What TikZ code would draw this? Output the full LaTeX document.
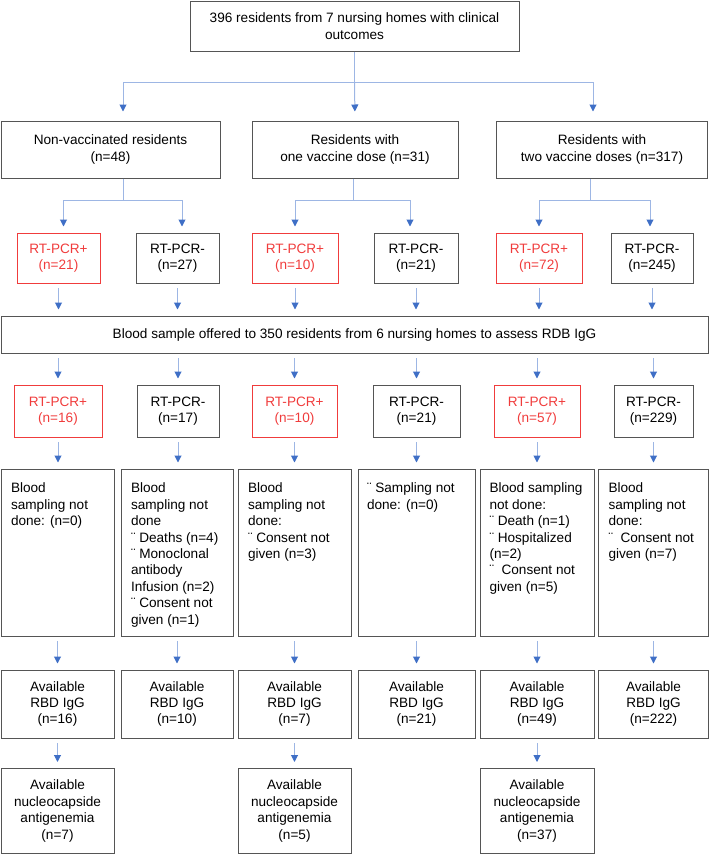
\documentclass[tikz,border=0pt]{standalone}
\usepackage{fontspec}
\setmainfont{Liberation Sans}
\usetikzlibrary{arrows.meta}

\definecolor{boxgray}{HTML}{555555}
\definecolor{posred}{HTML}{F03C3C}
\definecolor{linkblue}{HTML}{9DB6E4}
\definecolor{tipblue}{HTML}{3F6FC6}

% boxes with the text set from the top left corner
\newcommand{\toptext}[3]{\parbox[c][#1][t]{#2}{\raggedright #3}}

\tikzset{
  box/.style={draw=boxgray, line width=1pt, inner sep=0pt, align=center,
    font=\fontsize{13.6}{16.4}\selectfont},
  posbox/.style={box, draw=posred, text=posred, line width=1pt},
  link/.style={draw=linkblue, line width=1pt},
  arr/.style={link, -{Triangle[width=7pt,length=7pt,color=tipblue]}, shorten >=6pt},
  gaparr/.style={arr, shorten <=4.5pt},
}

\begin{document}
\begin{tikzpicture}[x=1pt, y=-1pt]
  \useasboundingbox (0,0) rectangle (709,855);

  % top and vaccination groups
  \node[box, minimum width=329pt, minimum height=50pt] (top) at (354.5,26)
    {396 residents from 7 nursing homes with clinical\\outcomes};
  \node[box, minimum width=219pt, minimum height=57pt] (nv) at (110.5,149.5)
    {Non-vaccinated residents\\[1.5pt](n=48)};
  \node[box, minimum width=206pt, minimum height=57pt] (one) at (355,149.5)
    {Residents with\\[1.5pt]one vaccine dose (n=31)};
  \node[box, minimum width=211pt, minimum height=57pt] (two) at (602,149.5)
    {Residents with\\[1.5pt]two vaccine doses (n=317)};

  % RT-PCR results
  \node[posbox, minimum width=83pt, minimum height=50pt] (p1) at (58.5,258) {RT-PCR+\\(n=21)};
  \node[box, minimum width=83pt, minimum height=50pt] (n1) at (177.5,258) {RT-PCR-\\(n=27)};
  \node[posbox, minimum width=86pt, minimum height=50pt] (p2) at (295,258) {RT-PCR+\\(n=10)};
  \node[box, minimum width=84pt, minimum height=50pt] (n2) at (416,258) {RT-PCR-\\(n=21)};
  \node[posbox, minimum width=86pt, minimum height=50pt] (p3) at (539,258) {RT-PCR+\\(n=72)};
  \node[box, minimum width=82pt, minimum height=50pt] (n3) at (652,258) {RT-PCR-\\(n=245)};

  \node[box, minimum width=707pt, minimum height=37pt] (blood) at (354.5,334.5)
    {Blood sample offered to 350 residents from 6 nursing homes to assess RDB IgG};

  % RT-PCR results among the sampled homes
  \node[posbox, minimum width=88pt, minimum height=52pt] (p1b) at (58,411) {RT-PCR+\\(n=16)};
  \node[box, minimum width=82pt, minimum height=52pt] (n1b) at (178,411) {RT-PCR-\\(n=17)};
  \node[posbox, minimum width=85pt, minimum height=52pt] (p2b) at (294.5,411) {RT-PCR+\\(n=10)};
  \node[box, minimum width=87pt, minimum height=52pt] (n2b) at (416.5,411) {RT-PCR-\\(n=21)};
  \node[posbox, minimum width=86pt, minimum height=52pt] (p3b) at (537,411) {RT-PCR+\\(n=57)};
  \node[box, minimum width=79pt, minimum height=52pt] (n3b) at (653.5,411) {RT-PCR-\\(n=229)};

  % sampling not done
  \node[box, minimum width=113pt, minimum height=167pt] (s1) at (57.5,552.5)
    {\toptext{139pt}{93pt}{Blood\\sampling not\\done: (n=0)}};
  \node[box, minimum width=112pt, minimum height=167pt] (s2) at (177,552.5)
    {\toptext{139pt}{92pt}{Blood\\sampling not\\done\\¨ Deaths (n=4)\\¨ Monoclonal\\antibody\\Infusion (n=2)\\¨ Consent not\\given (n=1)}};
  \node[box, minimum width=113pt, minimum height=167pt] (s3) at (294.5,552.5)
    {\toptext{139pt}{93pt}{Blood\\sampling not\\done:\\¨ Consent not\\given (n=3)}};
  \node[box, minimum width=117pt, minimum height=167pt] (s4) at (416.5,552.5)
    {\toptext{139pt}{99pt}{¨ Sampling not\\done: (n=0)}};
  \node[box, minimum width=114pt, minimum height=167pt] (s5) at (537,552.5)
    {\toptext{139pt}{95pt}{Blood sampling\\not done:\\¨ Death (n=1)\\¨ Hospitalized\\(n=2)\\¨~~Consent not\\given (n=5)}};
  \node[box, minimum width=110pt, minimum height=167pt] (s6) at (653.5,552.5)
    {\toptext{139pt}{90pt}{Blood\\sampling not\\done:\\¨~~Consent not\\given (n=7)}};

  % available RBD IgG
  \node[box, minimum width=113pt, minimum height=68pt] (r1) at (57.5,704) {Available\\RBD IgG\\(n=16)};
  \node[box, minimum width=112pt, minimum height=68pt] (r2) at (177,704) {Available\\RBD IgG\\(n=10)};
  \node[box, minimum width=113pt, minimum height=68pt] (r3) at (294.5,704) {Available\\RBD IgG\\(n=7)};
  \node[box, minimum width=117pt, minimum height=68pt] (r4) at (416.5,704) {Available\\RBD IgG\\(n=21)};
  \node[box, minimum width=114pt, minimum height=68pt] (r5) at (537,704) {Available\\RBD IgG\\(n=49)};
  \node[box, minimum width=110pt, minimum height=68pt] (r6) at (653.5,704) {Available\\RBD IgG\\(n=222)};

  % available nucleocapside antigenemia
  \node[box, minimum width=113pt, minimum height=85pt] (a1) at (57.5,811) {Available\\nucleocapside\\antigenemia\\(n=7)};
  \node[box, minimum width=113pt, minimum height=85pt] (a3) at (294.5,811) {Available\\nucleocapside\\antigenemia\\(n=5)};
  \node[box, minimum width=114pt, minimum height=85pt] (a5) at (537,811) {Available\\nucleocapside\\antigenemia\\(n=37)};

  % branches
  \coordinate (topj) at (354.5,82);
  \coordinate (nvj) at (123,200);
  \coordinate (onej) at (353,200);
  \coordinate (twoj) at (590,200);

  \draw[link] (top.south) -- (topj);
  \draw[arr, shorten >=9pt] (topj) -| ([xshift=12.5pt]nv.north);
  \draw[arr, shorten >=9pt] (topj) -- (one.north);
  \draw[arr, shorten >=9pt] (topj) -| ([xshift=-9pt]two.north);

  \draw[link] (nvj |- nv.south) -- (nvj);
  \draw[arr] (nvj) -| ([xshift=5pt]p1.north);
  \draw[arr] (nvj) -| ([xshift=4.5pt]n1.north);
  \draw[link] (onej |- one.south) -- (onej);
  \draw[arr] (onej) -| (p2.north);
  \draw[arr] (onej) -| ([xshift=-6pt]n2.north);
  \draw[link] (twoj |- two.south) -- (twoj);
  \draw[arr] (twoj) -| (p3.north);
  \draw[arr] (twoj) -| ([xshift=-2pt]n3.north);

  \draw[gaparr] (p1.south) -- (p1.south |- blood.north);
  \draw[gaparr] (n1.south) -- (n1.south |- blood.north);
  \draw[gaparr] (p2.south) -- (p2.south |- blood.north);
  \draw[gaparr] (n2.south) -- (n2.south |- blood.north);
  \draw[gaparr] (p3.south) -- (p3.south |- blood.north);
  \draw[gaparr] (n3.south) -- (n3.south |- blood.north);

  \draw[gaparr] (blood.south -| p1b) -- (p1b.north);
  \draw[gaparr] (blood.south -| n1b) -- (n1b.north);
  \draw[gaparr] (blood.south -| p2b) -- (p2b.north);
  \draw[gaparr] (blood.south -| n2b) -- (n2b.north);
  \draw[gaparr] (blood.south -| p3b) -- (p3b.north);
  \draw[gaparr] (blood.south -| n3b) -- (n3b.north);

  \draw[gaparr] (p1b.south) -- (p1b.south |- s1.north);
  \draw[gaparr] (n1b.south) -- (n1b.south |- s2.north);
  \draw[gaparr] (p2b.south) -- (p2b.south |- s3.north);
  \draw[gaparr] (n2b.south) -- (n2b.south |- s4.north);
  \draw[gaparr] (p3b.south) -- (p3b.south |- s5.north);
  \draw[gaparr] (n3b.south) -- (n3b.south |- s6.north);

  \draw[gaparr] (s1) -- (r1);
  \draw[gaparr] (s2) -- (r2);
  \draw[gaparr] (s3) -- (r3);
  \draw[gaparr] (s4) -- (r4);
  \draw[gaparr] (s5) -- (r5);
  \draw[gaparr] (s6) -- (r6);

  \draw[gaparr] (r1) -- (a1);
  \draw[gaparr] (r3) -- (a3);
  \draw[gaparr] (r5) -- (a5);

\end{tikzpicture}
\end{document}
